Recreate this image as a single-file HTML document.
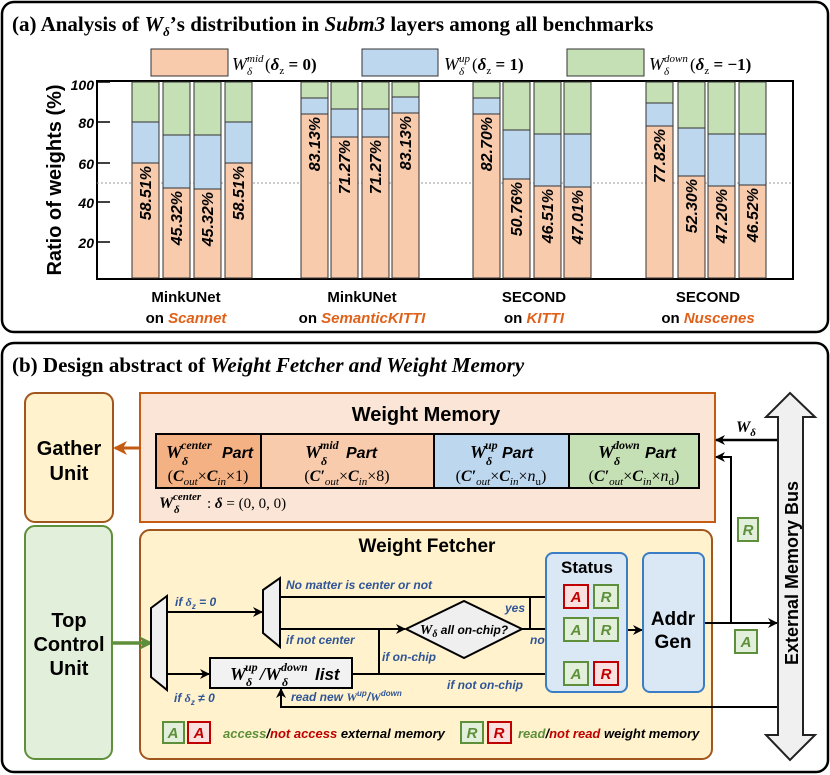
<!DOCTYPE html>
<html><head><meta charset="utf-8"><style>
html,body{margin:0;padding:0;background:#fff}
svg{display:block}
.sf{font-family:"Liberation Serif",serif}
.ss{font-family:"Liberation Sans",sans-serif}
</style></head><body>
<svg width="830" height="775" viewBox="0 0 830 775" xmlns="http://www.w3.org/2000/svg">
<defs>
<marker id="ah" markerWidth="10" markerHeight="10" refX="9" refY="5" orient="auto" markerUnits="userSpaceOnUse"><path d="M0,0 L10,5 L0,10 L3,5 z" fill="#000"/></marker>
<marker id="ahg" markerWidth="14" markerHeight="14" refX="12" refY="7" orient="auto" markerUnits="userSpaceOnUse"><path d="M0,0 L14,7 L0,14 L4,7 z" fill="#5e8f3a"/></marker>
<marker id="aho" markerWidth="14" markerHeight="14" refX="12" refY="7" orient="auto" markerUnits="userSpaceOnUse"><path d="M0,0 L14,7 L0,14 L4,7 z" fill="#c55a11"/></marker>
</defs>

<!-- Panel a -->
<rect x="2" y="2" width="826" height="330" rx="12" fill="#fff" stroke="#000" stroke-width="2.5"/>
<text x="12" y="31" class="sf" font-size="21" font-weight="bold">(a) Analysis of <tspan font-style="italic">W</tspan><tspan font-size="13" dy="5" font-style="italic">δ</tspan><tspan dy="-5">’s distribution in </tspan><tspan font-style="italic">Subm3</tspan> layers among all benchmarks</text>

<!-- legend -->
<g class="sf" font-style="italic">
<rect x="151" y="49" width="77" height="27" fill="#f8cbad" stroke="#333"/>
<text x="232" y="70" font-size="18">W</text><text x="247" y="62" font-size="11">mid</text><text x="247" y="75" font-size="11">δ</text>
<text x="265" y="70" font-size="17" font-style="normal">(<tspan font-style="italic" font-weight="bold">δ</tspan><tspan font-size="11" dy="4">z</tspan><tspan dy="-4" font-weight="bold"> = 0)</tspan></text>
<rect x="362" y="49" width="76" height="27" fill="#bdd7ee" stroke="#333"/>
<text x="444" y="70" font-size="18">W</text><text x="459" y="62" font-size="11">up</text><text x="459" y="75" font-size="11">δ</text>
<text x="472" y="70" font-size="17" font-style="normal">(<tspan font-style="italic" font-weight="bold">δ</tspan><tspan font-size="11" dy="4">z</tspan><tspan dy="-4" font-weight="bold"> = 1)</tspan></text>
<rect x="567" y="49" width="77" height="27" fill="#c5e0b4" stroke="#333"/>
<text x="649" y="70" font-size="18">W</text><text x="664" y="62" font-size="11">down</text><text x="664" y="75" font-size="11">δ</text>
<text x="690" y="70" font-size="17" font-style="normal">(<tspan font-style="italic" font-weight="bold">δ</tspan><tspan font-size="11" dy="4">z</tspan><tspan dy="-4" font-weight="bold"> = −1)</tspan></text>
</g>

<!-- chart frame -->
<rect x="97" y="81" width="696" height="198" fill="#fff" stroke="#000" stroke-width="2"/>
<line x1="97" y1="183" x2="793" y2="183" stroke="#999" stroke-dasharray="2,2"/>
<g stroke="#000" stroke-width="1.5">
<line x1="97" y1="82" x2="110" y2="82"/><line x1="97" y1="122" x2="110" y2="122"/><line x1="97" y1="163" x2="110" y2="163"/><line x1="97" y1="202" x2="110" y2="202"/><line x1="97" y1="242" x2="110" y2="242"/>
</g>
<g class="ss" font-size="14" font-style="italic" text-anchor="end" font-weight="bold">
<text x="94" y="90">100</text><text x="94" y="128">80</text><text x="94" y="169">60</text><text x="94" y="208">40</text><text x="94" y="248">20</text>
</g>
<text transform="translate(61,180) rotate(-90)" class="ss" font-size="20" font-weight="bold" text-anchor="middle">Ratio of weights (%)</text>

<g stroke="#333" stroke-width="1">
<rect x="132" y="82" width="27" height="196" fill="#c5e0b4"/><rect x="132" y="122" width="27" height="156" fill="#bdd7ee"/><rect x="132" y="163" width="27" height="115" fill="#f8cbad"/>
<rect x="163" y="82" width="27" height="196" fill="#c5e0b4"/><rect x="163" y="135" width="27" height="143" fill="#bdd7ee"/><rect x="163" y="188" width="27" height="90" fill="#f8cbad"/>
<rect x="194" y="82" width="27" height="196" fill="#c5e0b4"/><rect x="194" y="135" width="27" height="143" fill="#bdd7ee"/><rect x="194" y="189" width="27" height="89" fill="#f8cbad"/>
<rect x="225" y="82" width="27" height="196" fill="#c5e0b4"/><rect x="225" y="122" width="27" height="156" fill="#bdd7ee"/><rect x="225" y="163" width="27" height="115" fill="#f8cbad"/>
<rect x="301" y="82" width="27" height="196" fill="#c5e0b4"/><rect x="301" y="98" width="27" height="180" fill="#bdd7ee"/><rect x="301" y="114" width="27" height="164" fill="#f8cbad"/>
<rect x="331" y="82" width="27" height="196" fill="#c5e0b4"/><rect x="331" y="109" width="27" height="169" fill="#bdd7ee"/><rect x="331" y="137" width="27" height="141" fill="#f8cbad"/>
<rect x="362" y="82" width="27" height="196" fill="#c5e0b4"/><rect x="362" y="109" width="27" height="169" fill="#bdd7ee"/><rect x="362" y="137" width="27" height="141" fill="#f8cbad"/>
<rect x="392" y="82" width="27" height="196" fill="#c5e0b4"/><rect x="392" y="97" width="27" height="181" fill="#bdd7ee"/><rect x="392" y="113" width="27" height="165" fill="#f8cbad"/>
<rect x="473" y="82" width="27" height="196" fill="#c5e0b4"/><rect x="473" y="98" width="27" height="180" fill="#bdd7ee"/><rect x="473" y="114" width="27" height="164" fill="#f8cbad"/>
<rect x="503" y="82" width="27" height="196" fill="#c5e0b4"/><rect x="503" y="130" width="27" height="148" fill="#bdd7ee"/><rect x="503" y="179" width="27" height="99" fill="#f8cbad"/>
<rect x="534" y="82" width="27" height="196" fill="#c5e0b4"/><rect x="534" y="134" width="27" height="144" fill="#bdd7ee"/><rect x="534" y="186" width="27" height="92" fill="#f8cbad"/>
<rect x="564" y="82" width="27" height="196" fill="#c5e0b4"/><rect x="564" y="134" width="27" height="144" fill="#bdd7ee"/><rect x="564" y="187" width="27" height="91" fill="#f8cbad"/>
<rect x="646" y="82" width="27" height="196" fill="#c5e0b4"/><rect x="646" y="103" width="27" height="175" fill="#bdd7ee"/><rect x="646" y="126" width="27" height="152" fill="#f8cbad"/>
<rect x="678" y="82" width="27" height="196" fill="#c5e0b4"/><rect x="678" y="128" width="27" height="150" fill="#bdd7ee"/><rect x="678" y="176" width="27" height="102" fill="#f8cbad"/>
<rect x="708" y="82" width="27" height="196" fill="#c5e0b4"/><rect x="708" y="134" width="27" height="144" fill="#bdd7ee"/><rect x="708" y="186" width="27" height="92" fill="#f8cbad"/>
<rect x="739" y="82" width="27" height="196" fill="#c5e0b4"/><rect x="739" y="134" width="27" height="144" fill="#bdd7ee"/><rect x="739" y="185" width="27" height="93" fill="#f8cbad"/>
</g>
<g class="ss" font-size="16" font-weight="bold" font-style="italic" text-anchor="end">
<text transform="translate(151,166) rotate(-90)">58.51%</text>
<text transform="translate(182,191) rotate(-90)">45.32%</text>
<text transform="translate(213,192) rotate(-90)">45.32%</text>
<text transform="translate(244,166) rotate(-90)">58.51%</text>
<text transform="translate(320,117) rotate(-90)">83.13%</text>
<text transform="translate(350,140) rotate(-90)">71.27%</text>
<text transform="translate(381,140) rotate(-90)">71.27%</text>
<text transform="translate(411,116) rotate(-90)">83.13%</text>
<text transform="translate(492,117) rotate(-90)">82.70%</text>
<text transform="translate(522,182) rotate(-90)">50.76%</text>
<text transform="translate(553,189) rotate(-90)">46.51%</text>
<text transform="translate(583,190) rotate(-90)">47.01%</text>
<text transform="translate(665,129) rotate(-90)">77.82%</text>
<text transform="translate(697,179) rotate(-90)">52.30%</text>
<text transform="translate(727,189) rotate(-90)">47.20%</text>
<text transform="translate(758,188) rotate(-90)">46.52%</text>
</g>
<g class="ss" font-size="15" font-weight="bold" text-anchor="middle">
<text x="186" y="302">MinkUNet</text><text x="186" y="323">on <tspan fill="#e0621a" font-style="italic">Scannet</tspan></text>
<text x="362" y="302">MinkUNet</text><text x="362" y="323">on <tspan fill="#e0621a" font-style="italic">SemanticKITTI</tspan></text>
<text x="534" y="302">SECOND</text><text x="534" y="323">on <tspan fill="#e0621a" font-style="italic">KITTI</tspan></text>
<text x="708" y="302">SECOND</text><text x="708" y="323">on <tspan fill="#e0621a" font-style="italic">Nuscenes</tspan></text>
</g>

<!-- Panel b -->
<rect x="2" y="343" width="826" height="429" rx="12" fill="#fff" stroke="#000" stroke-width="2.5"/>
<text x="12" y="372" class="sf" font-size="21" font-weight="bold">(b) Design abstract of <tspan font-style="italic">Weight Fetcher and Weight Memory</tspan></text>

<rect x="25" y="393" width="88" height="129" rx="10" fill="#fff2cc" stroke="#a0561c" stroke-width="2"/>
<text x="69" y="455" class="ss" font-size="20" font-weight="bold" text-anchor="middle">Gather</text>
<text x="69" y="480" class="ss" font-size="20" font-weight="bold" text-anchor="middle">Unit</text>

<rect x="140" y="393" width="575" height="129" fill="#fbe5d6" stroke="#c55a11" stroke-width="2"/>
<text x="426" y="421" class="ss" font-size="20" font-weight="bold" text-anchor="middle">Weight Memory</text>
<g stroke="#000" stroke-width="2">
<rect x="156" y="434" width="105" height="54" fill="#f4b183"/>
<rect x="261" y="434" width="173" height="54" fill="#f8cbad"/>
<rect x="434" y="434" width="135" height="54" fill="#bdd7ee"/>
<rect x="569" y="434" width="130" height="54" fill="#c5e0b4"/>
</g>
<g class="sf" font-style="italic" font-weight="bold">
<text x="166" y="458" font-size="18">W</text><text x="181" y="449" font-size="12">center</text><text x="182" y="465" font-size="12">δ</text><text x="222" y="458" class="ss" font-size="16">Part</text>
<text x="305" y="458" font-size="18">W</text><text x="320" y="449" font-size="12">mid</text><text x="321" y="465" font-size="12">δ</text><text x="346" y="458" class="ss" font-size="16">Part</text>
<text x="470" y="458" font-size="18">W</text><text x="485" y="449" font-size="12">up</text><text x="486" y="465" font-size="12">δ</text><text x="502" y="458" class="ss" font-size="16">Part</text>
<text x="598" y="458" font-size="18">W</text><text x="613" y="449" font-size="12">down</text><text x="614" y="465" font-size="12">δ</text><text x="645" y="458" class="ss" font-size="16">Part</text>
</g>
<g font-size="16" text-anchor="middle" class="sf">
<text x="208" y="481">(<tspan font-style="italic" font-weight="bold">C</tspan><tspan font-size="11" dy="4" font-style="italic">out</tspan><tspan dy="-4">×</tspan><tspan font-style="italic" font-weight="bold">C</tspan><tspan font-size="11" dy="4" font-style="italic">in</tspan><tspan dy="-4">×1)</tspan></text>
<text x="347" y="481">(<tspan font-style="italic" font-weight="bold">C′</tspan><tspan font-size="11" dy="4" font-style="italic">out</tspan><tspan dy="-4">×</tspan><tspan font-style="italic" font-weight="bold">C</tspan><tspan font-size="11" dy="4" font-style="italic">in</tspan><tspan dy="-4">×8)</tspan></text>
<text x="501" y="481">(<tspan font-style="italic" font-weight="bold">C′</tspan><tspan font-size="11" dy="4" font-style="italic">out</tspan><tspan dy="-4">×</tspan><tspan font-style="italic" font-weight="bold">C</tspan><tspan font-size="11" dy="4" font-style="italic">in</tspan><tspan dy="-4">×</tspan><tspan font-style="italic">n</tspan><tspan font-size="11" dy="4">u</tspan><tspan dy="-4">)</tspan></text>
<text x="634" y="481">(<tspan font-style="italic" font-weight="bold">C′</tspan><tspan font-size="11" dy="4" font-style="italic">out</tspan><tspan dy="-4">×</tspan><tspan font-style="italic" font-weight="bold">C</tspan><tspan font-size="11" dy="4" font-style="italic">in</tspan><tspan dy="-4">×</tspan><tspan font-style="italic">n</tspan><tspan font-size="11" dy="4">d</tspan><tspan dy="-4">)</tspan></text>
</g>
<g class="sf">
<text x="159" y="508" font-size="16" font-style="italic" font-weight="bold">W</text><text x="173" y="500" font-size="11" font-style="italic" font-weight="bold">center</text><text x="174" y="513" font-size="11" font-style="italic" font-weight="bold">δ</text>
<text x="207" y="508" font-size="15">: <tspan font-style="italic" font-weight="bold">δ</tspan> = (0, 0, 0)</text>
</g>
<line x1="140" y1="448" x2="115" y2="448" stroke="#c55a11" stroke-width="3" marker-end="url(#aho)"/>

<!-- Top control -->
<rect x="25" y="526" width="87" height="233" rx="10" fill="#e2efda" stroke="#5e8f3a" stroke-width="2"/>
<g class="ss" font-size="20" font-weight="bold" text-anchor="middle">
<text x="69" y="627">Top</text><text x="69" y="651">Control</text><text x="69" y="675">Unit</text>
</g>

<!-- Weight fetcher -->
<rect x="140" y="530" width="572" height="229" rx="10" fill="#fff2cc" stroke="#a0561c" stroke-width="2"/>
<text x="427" y="552" class="ss" font-size="19" font-weight="bold" text-anchor="middle">Weight Fetcher</text>
<line x1="112" y1="643" x2="151" y2="643" stroke="#5e8f3a" stroke-width="3.5" marker-end="url(#ahg)"/>

<polygon points="151,608 167,596 167,690 151,677" fill="#efefef" stroke="#000" stroke-width="2"/>
<polygon points="263,590 280,578 280,647 263,633" fill="#efefef" stroke="#000" stroke-width="2"/>
<g stroke="#000" stroke-width="2" fill="none">
<line x1="167" y1="612" x2="262" y2="612" marker-end="url(#ah)"/>
<line x1="167" y1="674" x2="209" y2="674" marker-end="url(#ah)"/>
<line x1="280" y1="597" x2="561" y2="597" marker-end="url(#ah)"/>
<line x1="280" y1="629" x2="405" y2="629" marker-end="url(#ah)"/>
<line x1="352" y1="674" x2="561" y2="674" marker-end="url(#ah)"/>
<line x1="379" y1="629" x2="379" y2="674"/>
<line x1="522" y1="629" x2="561" y2="629" marker-end="url(#ah)"/>
<line x1="530" y1="597" x2="530" y2="629"/>
<line x1="627" y1="630" x2="642" y2="630" marker-end="url(#ah)"/>
<line x1="704" y1="623" x2="777" y2="623" marker-end="url(#ah)"/>
<polyline points="778,707 281,707 281,689" marker-end="url(#ah)"/>
<line x1="778" y1="440" x2="716" y2="440" stroke-width="2.5" marker-end="url(#ah)"/>
<polyline points="731,623 731,457 716,457" marker-end="url(#ah)"/>
</g>
<polygon points="406,629 464,601 522,629 464,658" fill="#efefef" stroke="#000" stroke-width="2"/>
<text x="464" y="634" class="ss" font-size="12" font-weight="bold" font-style="italic" text-anchor="middle"><tspan class="sf" font-size="14">W</tspan><tspan class="sf" font-size="10" dy="3">δ</tspan><tspan dy="-3"> all on-chip?</tspan></text>
<rect x="210" y="658" width="142" height="30" fill="#f2f2f2" stroke="#000" stroke-width="2"/>
<g class="sf" font-style="italic" font-weight="bold">
<text x="230" y="680" font-size="18">W</text><text x="245" y="671" font-size="12">up</text><text x="246" y="686" font-size="12">δ</text>
<text x="260" y="680" font-size="18">/W</text><text x="281" y="671" font-size="12">down</text><text x="282" y="686" font-size="12">δ</text>
<text x="315" y="680" class="ss" font-size="17">list</text>
</g>

<g class="ss" font-size="12" font-weight="bold" font-style="italic" fill="#2f5597">
<text x="175" y="606">if <tspan class="sf">δ</tspan><tspan font-size="8" dy="3">z</tspan><tspan dy="-3"> = 0</tspan></text>
<text x="174" y="702">if <tspan class="sf">δ</tspan><tspan font-size="8" dy="3">z</tspan><tspan dy="-3"> ≠ 0</tspan></text>
<text x="286" y="589">No matter is center or not</text>
<text x="286" y="644">if not center</text>
<text x="382" y="661">if on-chip</text>
<text x="447" y="689">if not on-chip</text>
<text x="505" y="612">yes</text>
<text x="530" y="644">no</text>
<text x="291" y="701">read new <tspan class="sf">W</tspan><tspan font-size="8" dy="-5">up</tspan><tspan dy="5">/</tspan><tspan class="sf">W</tspan><tspan font-size="8" dy="-5">down</tspan></text>
</g>

<rect x="546" y="553" width="81" height="139" rx="7" fill="#dae8f5" stroke="#3b7dc4" stroke-width="2"/>
<text x="587" y="573" class="ss" font-size="17" font-weight="bold" text-anchor="middle">Status</text>
<rect x="643" y="553" width="61" height="139" rx="7" fill="#dae8f5" stroke="#3b7dc4" stroke-width="2"/>
<text x="673" y="625" class="ss" font-size="19" font-weight="bold" text-anchor="middle">Addr</text>
<text x="673" y="648" class="ss" font-size="19" font-weight="bold" text-anchor="middle">Gen</text>

<g class="ss" font-size="15" font-weight="bold" font-style="italic" text-anchor="middle" stroke-width="2">
<rect x="564" y="585" width="24" height="23" fill="#fbe0e0" stroke="#c00000"/><text x="576" y="602" fill="#c00000">A</text>
<rect x="594" y="585" width="24" height="23" fill="#e2efda" stroke="#5e8f3a"/><text x="606" y="602" fill="#5e8f3a">R</text>
<rect x="564" y="618" width="24" height="23" fill="#e2efda" stroke="#5e8f3a"/><text x="576" y="635" fill="#5e8f3a">A</text>
<rect x="594" y="618" width="24" height="23" fill="#e2efda" stroke="#5e8f3a"/><text x="606" y="635" fill="#5e8f3a">R</text>
<rect x="564" y="662" width="24" height="23" fill="#e2efda" stroke="#5e8f3a"/><text x="576" y="679" fill="#5e8f3a">A</text>
<rect x="594" y="662" width="24" height="23" fill="#fbe0e0" stroke="#c00000"/><text x="606" y="679" fill="#c00000">R</text>
<rect x="163" y="722" width="21" height="21" fill="#e2efda" stroke="#5e8f3a"/><text x="173" y="738" fill="#5e8f3a">A</text>
<rect x="188" y="722" width="22" height="21" fill="#fbe0e0" stroke="#c00000"/><text x="199" y="738" fill="#c00000">A</text>
<rect x="461" y="722" width="22" height="21" fill="#e2efda" stroke="#5e8f3a"/><text x="472" y="738" fill="#5e8f3a">R</text>
<rect x="488" y="722" width="23" height="21" fill="#fbe0e0" stroke="#c00000"/><text x="499" y="738" fill="#c00000">R</text>
<rect x="738" y="518" width="20" height="23" fill="#e2efda" stroke="#5e8f3a"/><text x="748" y="535" fill="#5e8f3a">R</text>
<rect x="735" y="630" width="22" height="23" fill="#e2efda" stroke="#5e8f3a"/><text x="746" y="647" fill="#5e8f3a">A</text>
</g>
<g class="ss" font-size="13" font-weight="bold" font-style="italic">
<text x="223" y="738"><tspan fill="#5e8f3a">access</tspan>/<tspan fill="#c00000">not access</tspan> external memory</text>
<text x="518" y="738"><tspan fill="#5e8f3a">read</tspan>/<tspan fill="#c00000">not read</tspan> weight memory</text>
</g>

<!-- bus -->
<polygon points="790,393 815,417 803,417 803,735 815,735 790,760 766,735 778,735 778,417 766,417" fill="#f0f0f0" stroke="#222" stroke-width="2"/>
<text transform="translate(798,573) rotate(-90)" class="ss" font-size="18" font-weight="bold" text-anchor="middle">External Memory Bus</text>
<text x="736" y="432" class="sf" font-size="16" font-weight="bold" font-style="italic">W<tspan font-size="11" dy="4">δ</tspan></text>
</svg>
</body></html>
